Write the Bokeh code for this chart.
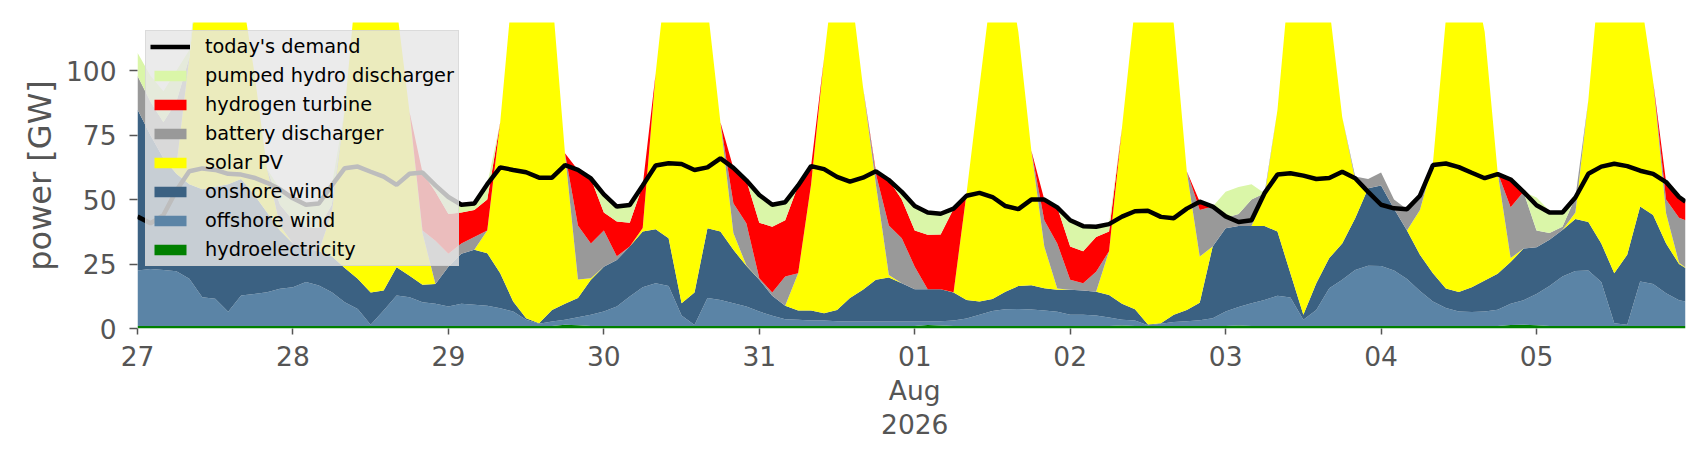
from datetime import datetime, timedelta

from bokeh.plotting import figure
from bokeh.models import (ColumnDataSource, Range1d, FixedTicker,
                          CustomJSTickFormatter, Legend, LegendItem)
from bokeh.embed import file_html
from bokeh.resources import INLINE

# ---------------- data (GW), sampled every 2 hours, last sample at 23:00 ----------------
hours = list(range(0, 240, 2)) + [239]
start = datetime(2026, 7, 27)
times = [start + timedelta(hours=h) for h in hours]

hydroelectricity = [
    1, 1, 1, 1, 1, 1, 1, 1, 1, 1, 1, 1,
    1, 1, 1, 1, 1, 1, 1, 1, 1, 1, 1, 1,
    1, 1, 1, 1, 1, 1, 1, 1, 1, 1.5, 1.3, 1,
    1, 1, 1, 1, 1, 1, 1, 1, 1, 1, 1, 1,
    1, 1, 1, 1, 1, 1, 1, 1, 1, 1, 1, 1,
    1, 1.4, 1.2, 1, 1, 1, 1, 1, 1, 1, 1, 1,
    1, 1, 1, 1, 1.2, 1, 1, 1, 1, 1, 1, 1,
    1, 1.2, 1, 1, 1, 1, 1, 1, 1, 1, 1, 1,
    1, 1, 1, 1, 1, 1, 1, 1, 1, 1, 1.4, 1.5,
    1.3, 1, 1, 1, 1, 1, 1, 1, 1, 1, 1, 1, 1,
]
offshore_wind = [
    21.5, 22.1, 21.7, 21.2, 18.3, 11.1, 10.5, 5.5, 11.8, 12.4, 13.1, 14.4,
    15, 17, 15.7, 13.1, 9.2, 6.6, 0.5, 6, 11.8, 11.1, 9.2, 8.6,
    7.5, 8.6, 8.2, 7.8, 6.9, 5.6, 2.4, 0.8, 1.7, 1.9, 3.1, 4.3,
    5.6, 7.5, 11.4, 15, 16.6, 15.5, 4, 0.4, 10.8, 10.1, 8.8, 7.5,
    5.6, 3.9, 2.6, 2.4, 2.1, 2.1, 1.8, 1.7, 1.7, 1.7, 1.7, 1.7,
    1.7, 1.3, 1.6, 2.1, 2.9, 4.3, 5.8, 6.5, 6.6, 6.4, 6, 5.5,
    4.3, 4.3, 4, 3.3, 2.2, 2.1, 0.3, 0.8, 1.5, 1.8, 2.2, 3,
    5.6, 7.1, 8.8, 10.1, 11.7, 11, 2.4, 6.2, 14.6, 17.9, 21.7, 23.3,
    23.2, 21.5, 18.2, 13.5, 9.5, 7, 5.6, 5.4, 5.6, 6.3, 8.2, 9.5,
    12.1, 15.5, 19.2, 21.3, 21.5, 17, 1, 0.5, 17.2, 16.3, 12.7, 10, 9.5,
]
onshore_wind = [
    62.5, 51.9, 43.3, 37.8, 36.7, 41.9, 43.5, 49.5, 45.2, 38.6, 30.9, 22.6,
    17, 13, 13.3, 13.9, 13.3, 11.7, 12.5, 7.7, 11, 8.4, 6.8, 7.7,
    15.5, 19.4, 21.3, 20.4, 13.5, 3.9, 0.6, 0.2, 4.5, 6.2, 7.4, 13.6,
    17.4, 18.1, 19.4, 21.6, 20.9, 18.5, 4.8, 12.6, 27.1, 26.5, 20.7, 15.8,
    12.3, 7.8, 5.2, 3.6, 3.9, 2.8, 4.4, 9.1, 12.3, 16.2, 17.1, 14.9,
    12.5, 12.5, 12.4, 10.9, 7.2, 5.2, 4.6, 6.8, 8.9, 9.4, 8.6, 8.5,
    9.7, 9.4, 9.3, 8.7, 6.2, 4.4, 0.3, 0.2, 2.8, 4.4, 6.8, 27.8,
    32.3, 31.5, 30, 28.7, 24.9, 9.4, 1.9, 10.4, 11.7, 14.1, 20.1, 30.1,
    31.3, 24, 18.8, 14.1, 10.9, 7.5, 7.6, 9.6, 12, 13.9, 16.2, 20,
    18.1, 17.9, 18, 20.2, 18.8, 15, 19.4, 27.1, 29.1, 26.7, 19.3, 14, 13,
]
solar_pv = [
    0, 0, 0, 3, 49, 96, 110, 102, 74, 48, 17, 2,
    0, 0, 0, 17, 61.5, 120.7, 141, 130.3, 101.2, 63.5, 20, 0,
    0, 0, 0, 8.8, 58.6, 124.5, 156, 163, 122.8, 58.4, 7.2, 0.6,
    0, 0, 0, 1.4, 60.5, 110, 155.2, 136, 86.1, 42.4, 6.5, 0.2,
    0, 0, 0, 14.4, 49, 99.1, 140.8, 123.2, 79, 37.1, 1, 0,
    0, 0, 0, 0.1, 41.4, 83.5, 123.6, 130.7, 98.5, 52.2, 16.2, 0.5,
    0, 0, 0, 17, 68.4, 117.5, 158.4, 148, 112.7, 53.8, 17.9, 0,
    0, 0, 0, 11.4, 47.2, 118.6, 149.7, 132.4, 97.7, 49, 14.8, 0,
    0, 0, 0, 17.4, 42.6, 104.5, 135.8, 124, 96.4, 39.3, 1.5, 0,
    0, 0, 0, 2.5, 47.3, 112, 138.6, 121.4, 82.7, 52, 11.7, 0.5, 0.2,
]
battery_discharger = [
    13, 13, 14, 25, 0, 0, 0, 0, 0, 0, 0, 8,
    9, 8.3, 9, 3, 0, 0, 0, 0, 0, 0, 1, 16.7,
    5, 4, 5, 0, 0, 0, 0, 0, 0, 0, 21, 13.5,
    14, 1.4, 0, 0, 0, 0, 0, 0, 0, 0, 11.6, 16.3,
    0.6, 1.3, 11.4, 0, 0, 0, 0, 0, 0, 4, 19.2, 17.4,
    8.8, 0, 0, 0, 0, 0, 0, 0, 0, 0, 10.2, 17.5,
    3.9, 2.9, 7.7, 0, 0, 0, 0, 0, 0, 0, 18.1, 15.5,
    4.1, 4.6, 10.2, 1.3, 0, 0, 0, 0, 0, 0, 1.4, 3.6,
    5, 3.5, 8.3, 5.5, 0, 0, 0, 0, 0, 0, 19.7, 22,
    6.5, 2.6, 1.3, 5.8, 0, 0, 0, 0, 0, 0, 5.3, 17.5, 18.3,
]
hydrogen_turbine = [
    0, 0, 0, 0, 0, 0, 0, 0, 0, 0, 0, 0,
    0, 0, 0, 0, 0, 0, 0, 0, 0, 0, 22.5, 19,
    15.4, 12, 10.5, 12, 0, 0, 0, 0, 0, 0, 21.5, 25.2,
    7, 13.5, 9.2, 16.5, 0, 0, 0, 0, 0, 0, 13.7, 16.7,
    21.5, 25.5, 21.8, 34.1, 7, 0, 0, 0, 0, 1, 17.6, 15,
    14, 21.2, 21.3, 32.4, 0, 0, 0, 0, 0, 0, 8, 14,
    12.9, 12.4, 13.5, 7.6, 0, 0, 0, 0, 0, 0, 3.2, 0,
    0, 0, 0, 0, 0, 0, 0, 0, 0, 0, 0, 0,
    0, 0, 0, 0, 0, 0, 0, 0, 0, 0, 10.8, 0,
    0, 0, 0, 0, 0, 0, 0, 0, 0, 0, 6.8, 8, 7.2,
]
pumped_hydro_discharger = [
    9, 10, 12, 12, 3, 0, 0, 0, 0, 0, 0, 6,
    8.5, 8.7, 9.5, 7.5, 0, 0, 0, 0, 0, 0, 0, 2.5,
    6.6, 3, 2.5, 6, 0, 0, 0, 0, 0, 0, 0, 0,
    7, 5.8, 6.9, 0, 0, 0, 0, 0, 0, 0, 0, 0,
    10.8, 8.5, 7, 0, 0, 0, 0, 0, 0, 0, 0, 3,
    9.5, 8.6, 8, 0, 0, 0, 0, 0, 0, 0, 0, 0,
    10.2, 9.7, 4, 2.9, 0, 0, 0, 0, 0, 0, 0, 0,
    10, 10.5, 6, 0, 0, 0, 0, 0, 0, 0, 0, 0,
    0, 0, 0, 0, 0, 0, 0, 0, 0, 0, 0, 0,
    12.8, 8.7, 5.5, 0, 0, 0, 0, 0, 0, 0, 0, 0, 0,
]
todays_demand = [
    43.4, 40.8, 44, 53.5, 61, 62.1, 61.5, 60, 59.7, 58.5, 56.5, 54,
    50.5, 48, 48.5, 55.5, 62.2, 62.8, 60.8, 58.9, 55.7, 60, 60.5, 55.5,
    51, 48, 48.5, 56, 62.5, 61.5, 60.6, 58.5, 58.5, 63.4, 61.5, 58.2,
    52, 47.3, 47.9, 55.5, 63.2, 64.1, 63.8, 61.5, 62.5, 66, 62.3, 57.5,
    51.8, 48, 49, 55.5, 63, 61.8, 58.8, 57, 58.5, 61, 57.6, 53,
    47.5, 45, 44.5, 46.5, 51.5, 52.6, 51, 47.5, 46.3, 50, 50, 47,
    42, 39.7, 39.5, 40.5, 43.4, 45.5, 45.7, 43.3, 42.8, 46.5, 49.2, 47.3,
    43.5, 41.3, 42, 52.5, 59.7, 60.2, 59.3, 58, 58.4, 60.8, 58.3, 53,
    48, 46.6, 46.3, 51.5, 63.4, 64, 62.6, 60.4, 58.3, 59.9, 57.8, 53,
    47.8, 45, 45, 50.8, 60, 62.8, 63.9, 63, 61.2, 60, 56.8, 51, 49.2,
]

stack_names = ["hydroelectricity", "offshore wind", "onshore wind", "solar PV",
               "battery discharger", "hydrogen turbine", "pumped hydro discharger"]
stack_cols = ["hydro", "offshore", "onshore", "solar", "battery", "hydrogen", "pumped"]
stack_colors = ["#008000", "#5b84a6", "#3b6182", "#ffff00",
                "#999999", "#ff0000", "#daf6a8"]

source = ColumnDataSource(dict(
    time=times, hydro=hydroelectricity, offshore=offshore_wind, onshore=onshore_wind,
    solar=solar_pv, battery=battery_discharger, hydrogen=hydrogen_turbine,
    pumped=pumped_hydro_discharger, demand=todays_demand,
))

FONT = "DejaVu Sans"
GREY = "#555555"

p = figure(width=1690, height=444, x_axis_type="datetime",
           output_backend="svg", toolbar_location=None,
           x_range=Range1d(times[0], times[-1]), y_range=Range1d(0, 118.7),
           min_border_left=137, min_border_right=5,
           min_border_top=22, min_border_bottom=116)
p.outline_line_color = None
p.xgrid.visible = False
p.ygrid.visible = False
p.background_fill_color = "white"

areas = p.varea_stack(stackers=stack_cols, x="time", color=stack_colors, source=source)
demand_line = p.line("time", "demand", source=source, line_color="black", line_width=4.5)

# axes
epoch = datetime(1970, 1, 1)
day_ticks = [((start + timedelta(days=d)) - epoch).total_seconds() * 1000.0 for d in range(10)]
p.xaxis.ticker = FixedTicker(ticks=day_ticks)
p.xaxis.formatter = CustomJSTickFormatter(code="""
    const months = ["Jan","Feb","Mar","Apr","May","Jun","Jul","Aug","Sep","Oct","Nov","Dec"];
    const d = new Date(tick);
    const day = d.getUTCDate();
    const s = (day < 10 ? "0" : "") + day;
    if (day === 1) { return s + "\\n" + months[d.getUTCMonth()] + "\\n" + d.getUTCFullYear(); }
    return s;
""")
p.yaxis.ticker = FixedTicker(ticks=[0, 25, 50, 75, 100])
p.yaxis.axis_label = "power [GW]"
p.yaxis.axis_label_text_font = FONT
p.yaxis.axis_label_text_font_size = "32px"
p.yaxis.axis_label_text_font_style = "normal"
p.yaxis.axis_label_text_color = GREY
p.yaxis.axis_label_standoff = 4

for ax in (p.xaxis[0], p.yaxis[0]):
    ax.axis_line_color = None
    ax.major_tick_line_color = GREY
    ax.major_tick_line_width = 1.5
    ax.major_tick_in = 0
    ax.minor_tick_line_color = None
    ax.major_label_text_font = FONT
    ax.major_label_text_font_size = "26.5px"
    ax.major_label_text_color = GREY
p.yaxis.major_tick_out = 8
p.yaxis.major_label_standoff = 13
p.xaxis.major_tick_out = 6
p.xaxis.major_label_standoff = 6
p.xaxis.major_label_text_line_height = 1.1

# legend
by_name = dict(zip(stack_names, areas))
items = [LegendItem(label="today's demand", renderers=[demand_line])]
for name in ["pumped hydro discharger", "hydrogen turbine", "battery discharger",
             "solar PV", "onshore wind", "offshore wind", "hydroelectricity"]:
    items.append(LegendItem(label=name, renderers=[by_name[name]]))

legend = Legend(items=items, location="top_left", margin=8, padding=4, spacing=6,
                glyph_width=40, glyph_height=13, label_standoff=15,
                label_text_font=FONT, label_text_font_size="19.3px",
                label_text_color="black",
                background_fill_color="#e6e6e6", background_fill_alpha=0.82,
                border_line_color="#cccccc", border_line_width=1.5)
p.add_layout(legend)

open("out.html", "w").write(file_html(p, INLINE))
